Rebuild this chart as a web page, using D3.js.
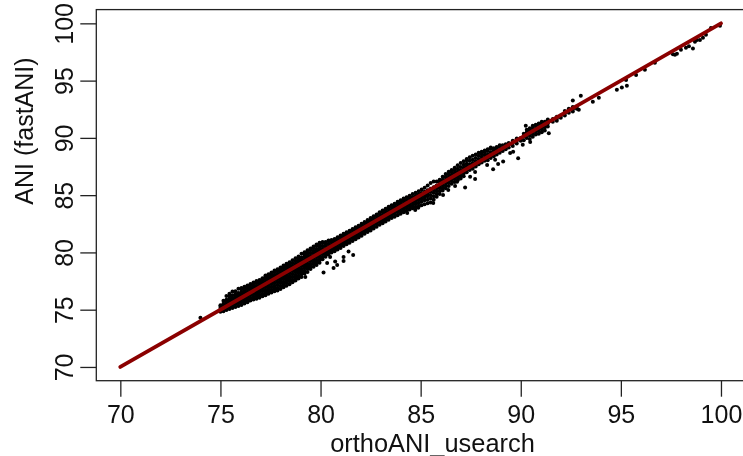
<!DOCTYPE html>
<html>
<head>
<meta charset="utf-8">
<script src="https://cdn.jsdelivr.net/npm/d3@7"></script>
<style>
  html, body { margin: 0; padding: 0; background: #fff; overflow: hidden; }
  svg { filter: blur(0.4px); }
  text { font-family: "Liberation Sans", Arial, sans-serif; fill: #111; }
</style>
</head>
<body>
<div id="chart"></div>
<script>
// Values
const xTicks = [70, 75, 80, 85, 90, 95, 100];
const yTicks = [70, 75, 80, 85, 90, 95, 100];
const xTitle = 'orthoANI_usearch';
const yTitle = 'ANI (fastANI)';
const identity = [70, 100];

// Main cloud: [orthoANI, [fastANI values at that orthoANI]]
const cloudLow = [
  [75.00, [74.82, 75.03, 75.24, 75.38]],
  [75.15, [74.87, 75.08, 75.31, 75.52, 75.78]],
  [75.30, [74.97, 75.19, 75.43, 75.64, 75.86, 76.2]],
  [75.45, [75.06, 75.27, 75.5, 75.71, 75.95, 76.17, 76.4]],
  [75.60, [75.14, 75.37, 75.58, 75.82, 76.03, 76.26, 76.58]],
  [75.75, [75.24, 75.47, 75.7, 75.91, 76.15, 76.37, 76.62]],
  [75.90, [75.33, 75.56, 75.78, 76.02, 76.24, 76.46, 76.82]],
  [76.05, [75.42, 75.65, 75.88, 76.11, 76.33, 76.55, 76.78, 76.9]],
  [76.20, [75.55, 75.78, 76.0, 76.22, 76.45, 76.68, 76.86, 77.0]],
  [76.35, [75.66, 75.9, 76.12, 76.34, 76.57, 76.8, 77.02, 77.12]],
  [76.50, [75.8, 76.02, 76.25, 76.47, 76.7, 76.92, 77.14, 77.25]],
  [76.65, [75.88, 76.12, 76.34, 76.57, 76.8, 77.02, 77.25, 77.38]],
  [76.80, [75.95, 76.18, 76.42, 76.65, 76.88, 77.1, 77.33, 77.5]],
  [76.95, [76.05, 76.28, 76.52, 76.75, 77.0, 77.22, 77.45, 77.6]],
  [77.10, [76.18, 76.4, 76.65, 76.88, 77.12, 77.35, 77.58, 77.75]],
  [77.25, [76.25, 76.5, 76.74, 76.98, 77.22, 77.45, 77.68, 77.88, 77.98]],
  [77.40, [76.4, 76.62, 76.86, 77.1, 77.33, 77.58, 77.8, 78.02, 78.1]],
  [77.55, [76.5, 76.75, 76.98, 77.22, 77.46, 77.7, 77.92, 78.12, 78.25]],
  [77.70, [76.6, 76.85, 77.1, 77.34, 77.58, 77.82, 78.05, 78.28, 78.42]],
  [77.85, [76.68, 76.92, 77.18, 77.42, 77.66, 77.9, 78.14, 78.38, 78.52]],
  [78.00, [76.8, 77.05, 77.3, 77.55, 77.8, 78.03, 78.27, 78.5, 78.68]],
  [78.15, [76.95, 77.2, 77.45, 77.7, 77.93, 78.17, 78.4, 78.65, 78.85]],
  [78.30, [77.1, 77.35, 77.58, 77.82, 78.06, 78.3, 78.54, 78.78, 79.0]],
  [78.45, [77.22, 77.48, 77.72, 77.96, 78.2, 78.44, 78.68, 78.92, 79.15]],
  [78.60, [77.4, 77.62, 77.86, 78.1, 78.35, 78.58, 78.82, 79.06, 79.32]],
  [78.75, [77.55, 77.8, 78.02, 78.26, 78.5, 78.74, 78.98, 79.22, 79.5]],
  [78.90, [77.72, 77.95, 78.18, 78.42, 78.66, 78.9, 79.14, 79.38, 79.65]],
  [79.05, [77.85, 78.1, 78.34, 78.58, 78.82, 79.05, 79.3, 79.55, 79.88]],
  [79.20, [78.15, 78.38, 78.62, 78.86, 79.1, 79.34, 79.58, 79.82, 80.02]],
  [79.35, [78.3, 78.55, 78.78, 79.02, 79.26, 79.5, 79.74, 79.98, 80.2]],
  [79.50, [78.55, 78.78, 79.0, 79.24, 79.48, 79.72, 79.95, 80.2, 80.35]],
  [79.65, [78.75, 78.98, 79.2, 79.44, 79.68, 79.92, 80.15, 80.38, 80.52]],
  [79.80, [78.9, 79.12, 79.36, 79.6, 79.84, 80.08, 80.3, 80.55, 80.7]],
  [79.95, [79.1, 79.32, 79.56, 79.8, 80.04, 80.26, 80.5, 80.72, 80.85]]
];

const cloudMid = [
  [80.10, [79.4, 79.62, 79.86, 80.1, 80.33, 80.56, 80.82, 80.9]],
  [80.25, [79.62, 79.84, 80.08, 80.3, 80.54, 80.78, 80.92]],
  [80.40, [79.82, 80.05, 80.28, 80.5, 80.74, 80.98, 81.05]],
  [80.55, [80.0, 80.22, 80.45, 80.68, 80.92, 81.08]],
  [80.70, [80.1, 80.35, 80.58, 80.82, 81.05, 81.18]],
  [80.85, [80.25, 80.48, 80.72, 80.95, 81.18, 81.32]],
  [81.00, [80.38, 80.6, 80.84, 81.08, 81.32, 81.48]],
  [81.15, [80.55, 80.78, 81.0, 81.24, 81.48, 81.62]],
  [81.30, [80.72, 80.95, 81.18, 81.42, 81.65, 81.76]],
  [81.45, [80.85, 81.08, 81.32, 81.55, 81.78, 81.9]],
  [81.60, [81.0, 81.24, 81.48, 81.7, 81.94, 82.05]],
  [81.75, [81.15, 81.38, 81.62, 81.86, 82.08, 82.2]],
  [81.90, [81.3, 81.52, 81.76, 82.0, 82.22, 82.32]],
  [82.05, [81.45, 81.68, 81.9, 82.14, 82.38, 82.5]],
  [82.20, [81.62, 81.85, 82.08, 82.3, 82.54, 82.65]],
  [82.35, [81.78, 82.0, 82.24, 82.46, 82.7, 82.82]],
  [82.50, [81.92, 82.15, 82.38, 82.62, 82.85, 83.0]],
  [82.65, [82.08, 82.3, 82.54, 82.78, 83.0, 83.15]],
  [82.80, [82.25, 82.48, 82.7, 82.94, 83.18, 83.32]],
  [82.95, [82.42, 82.65, 82.88, 83.1, 83.34, 83.5]],
  [83.10, [82.55, 82.78, 83.02, 83.25, 83.5, 83.65]],
  [83.25, [82.7, 82.94, 83.18, 83.42, 83.65, 83.82]],
  [83.40, [82.85, 83.08, 83.32, 83.55, 83.8, 83.98]],
  [83.55, [83.0, 83.22, 83.46, 83.7, 83.94, 84.12]],
  [83.70, [83.12, 83.36, 83.6, 83.84, 84.08, 84.26]],
  [83.85, [83.25, 83.5, 83.74, 83.98, 84.22, 84.42]],
  [84.00, [83.38, 83.62, 83.86, 84.1, 84.34, 84.55]],
  [84.15, [83.5, 83.74, 83.98, 84.22, 84.46, 84.7]],
  [84.30, [83.62, 83.86, 84.1, 84.34, 84.58, 84.82]],
  [84.45, [83.75, 84.0, 84.24, 84.48, 84.72, 84.95]],
  [84.60, [83.85, 84.1, 84.35, 84.6, 84.84, 85.1]],
  [84.75, [83.95, 84.2, 84.45, 84.7, 84.95, 85.2]],
  [84.90, [84.0, 84.3, 84.55, 84.8, 85.05, 85.35]]
];

const cloudHigh = [
  [85.05, [84.12, 84.42, 84.68, 84.92, 85.18, 85.5]],
  [85.20, [84.2, 84.55, 84.8, 85.05, 85.3, 85.65]],
  [85.35, [84.3, 84.6, 84.9, 85.15, 85.42, 85.85]],
  [85.50, [84.35, 84.7, 85.0, 85.28, 85.55, 86.05]],
  [85.65, [84.6, 84.9, 85.2, 85.45, 85.7, 86.2]],
  [85.80, [84.85, 85.1, 85.35, 85.6, 85.85, 86.2]],
  [85.95, [85.1, 85.35, 85.6, 85.85, 86.1, 86.35]],
  [86.10, [85.4, 85.6, 85.85, 86.1, 86.35, 86.6]],
  [86.25, [85.6, 85.85, 86.1, 86.35, 86.6, 86.85]],
  [86.40, [85.8, 86.05, 86.3, 86.55, 86.8, 87.05]],
  [86.55, [86.0, 86.25, 86.5, 86.75, 87.0, 87.2]],
  [86.70, [86.15, 86.4, 86.65, 86.9, 87.15, 87.4]],
  [86.85, [86.3, 86.55, 86.8, 87.05, 87.3, 87.6]],
  [87.00, [86.45, 86.7, 86.95, 87.2, 87.45, 87.8]],
  [87.15, [86.65, 86.9, 87.15, 87.4, 87.65, 87.95]],
  [87.30, [87.0, 87.25, 87.5, 87.75, 88.05, 88.15]],
  [87.45, [87.2, 87.45, 87.7, 88.0, 88.3]],
  [87.60, [87.3, 87.55, 87.8, 88.1, 88.45]],
  [87.75, [87.5, 87.7, 87.95, 88.25, 88.55]],
  [87.90, [87.7, 87.9, 88.15, 88.45, 88.7]],
  [88.05, [87.85, 88.1, 88.35, 88.6, 88.8]],
  [88.20, [88.0, 88.25, 88.5, 88.75, 88.9]],
  [88.35, [88.05, 88.3, 88.55, 88.85, 89.0]],
  [88.50, [88.25, 88.5, 88.75, 89.05, 89.15]],
  [88.65, [88.4, 88.65, 88.9, 89.1]],
  [88.80, [88.55, 88.75, 89.0, 89.2]],
  [88.95, [88.7, 88.95, 89.2, 89.35]],
  [89.10, [88.85, 89.1, 89.35]],
  [89.25, [89.0, 89.25, 89.45]],
  [89.40, [89.15, 89.4, 89.55]],
  [89.60, [89.3, 89.55, 89.75]],
  [89.80, [89.5, 89.75, 89.95]],
  [90.00, [89.75, 90.0]],
  [90.15, [89.8, 90.1, 90.35]],
  [90.30, [90.0, 90.25, 90.5, 90.7]],
  [90.45, [89.9, 90.2, 90.4, 90.65, 90.85]],
  [90.60, [90.1, 90.35, 90.6, 90.85, 91.05]],
  [90.75, [90.3, 90.55, 90.8, 91.05, 91.15]],
  [90.90, [90.35, 90.6, 90.85, 91.1, 91.25]],
  [91.05, [90.5, 90.75, 91.0, 91.25, 91.4]],
  [91.20, [90.65, 90.9, 91.15, 91.4]],
  [91.35, [91.0, 91.25, 91.5, 91.6]],
  [91.60, [91.4, 91.65]],
  [91.80, [91.5, 91.7, 91.85]],
  [92.00, [91.75, 91.95]],
  [92.20, [91.95, 92.15, 92.35]],
  [92.40, [92.2, 92.45, 92.55]],
  [92.60, [92.3, 92.5, 92.7]],
  [92.80, [92.55, 92.75]]
];

// Stray points off the main band
const strayX = [74.0, 76.9, 79.24, 80.15, 80.33, 80.48, 80.65, 80.73, 80.83, 81.15, 81.15, 81.4, 81.63,
  84.33, 84.73, 84.88, 85.63, 86.12, 86.38, 86.72, 86.82, 87.22, 87.47, 87.72, 87.72, 88.32, 88.62, 88.72,
  88.87, 89.12, 89.47, 89.62, 89.87, 90.1, 90.25, 90.47, 91.4, 92.6, 92.9, 93.0, 93.6, 93.9, 94.8, 95.05,
  95.26, 95.3, 95.76, 96.2, 96.7, 97.6, 97.7, 97.8, 98.0, 98.25, 98.4, 98.6, 98.7, 98.8, 98.95, 99.1, 99.25, 99.5, 99.95];
const strayY = [74.3, 76.3, 77.85, 78.24, 79.08, 79.6, 78.65, 79.2, 78.9, 79.6, 79.26, 80.07, 79.78,
  83.45, 83.7, 83.9, 84.32, 85.02, 85.46, 85.8, 86.16, 85.66, 86.6, 87.03, 86.4, 87.64, 87.27, 88.08,
  87.73, 87.93, 88.69, 88.78, 88.23, 89.4, 91.07, 89.65, 90.4, 93.26, 92.45, 93.67, 93.15, 93.5, 94.2, 94.4,
  95.06, 94.55, 95.5, 95.95, 96.55, 97.3, 97.25, 97.35, 97.7, 97.86, 98.0, 97.8, 98.4, 98.55, 98.55, 98.75, 99.0, 99.6, 99.8];

const width = 743;
const height = 456;

// usr range is 4% wider than 70-100, right side runs off the picture
const xScale = d3.scaleLinear().domain([68.8, 101.2]).range([96.3, 745]);
const yScale = d3.scaleLinear().domain([68.8, 101.2]).range([380.7, 9.6]);

const svg = d3.select('#chart')
  .append('svg')
  .attr('width', width)
  .attr('height', height);

const cloud = cloudLow.concat(cloudMid, cloudHigh)
  .flatMap(([x, ys]) => ys.map(y => [x, y]));
const stray = strayX.map((x, i) => [x, strayY[i]]);

// Draw points
svg.append('g')
  .selectAll('circle')
  .data(cloud.concat(stray))
  .enter().append('circle')
  .attr('cx', d => xScale(d[0]))
  .attr('cy', d => yScale(d[1]))
  .attr('r', 2)
  .attr('fill', '#000');

// Identity line
svg.append('line')
  .attr('x1', xScale(identity[0]))
  .attr('y1', yScale(identity[0]))
  .attr('x2', xScale(identity[1]))
  .attr('y2', yScale(identity[1]))
  .attr('stroke', '#8b0000')
  .attr('stroke-width', 3.8)
  .attr('stroke-linecap', 'round');

// Plot box
svg.append('rect')
  .attr('x', xScale(68.8))
  .attr('y', yScale(101.2))
  .attr('width', xScale(101.2) - xScale(68.8))
  .attr('height', yScale(68.8) - yScale(101.2))
  .attr('fill', 'none')
  .attr('stroke', '#222')
  .attr('stroke-width', 1.3);

// Add axes
const xAxis = svg.append('g')
  .attr('transform', `translate(0,${yScale(68.8)})`)
  .call(d3.axisBottom(xScale).tickValues(xTicks).tickSize(16).tickPadding(9));

const yAxis = svg.append('g')
  .attr('transform', `translate(${xScale(68.8)},0)`)
  .call(d3.axisLeft(yScale).tickValues(yTicks).tickSize(16));

[xAxis, yAxis].forEach(axis => {
  axis.select('.domain').remove();
  axis.selectAll('.tick line').attr('stroke', '#222').attr('stroke-width', 1.3);
  axis.selectAll('text').style('font-size', '25px').attr('fill', '#111');
});

// R style: y tick labels run along the axis
yAxis.selectAll('.tick text')
  .attr('x', 0)
  .attr('dy', 0)
  .attr('text-anchor', 'middle')
  .attr('transform', 'translate(-23.5,0) rotate(-90)');

// Add labels
svg.append('text')
  .attr('x', 432.5)
  .attr('y', 451.5)
  .attr('text-anchor', 'middle')
  .style('font-size', '25.4px')
  .text(xTitle);

svg.append('text')
  .attr('transform', 'translate(33,131) rotate(-90)')
  .attr('text-anchor', 'middle')
  .style('font-size', '25px')
  .text(yTitle);
</script>
</body>
</html>
